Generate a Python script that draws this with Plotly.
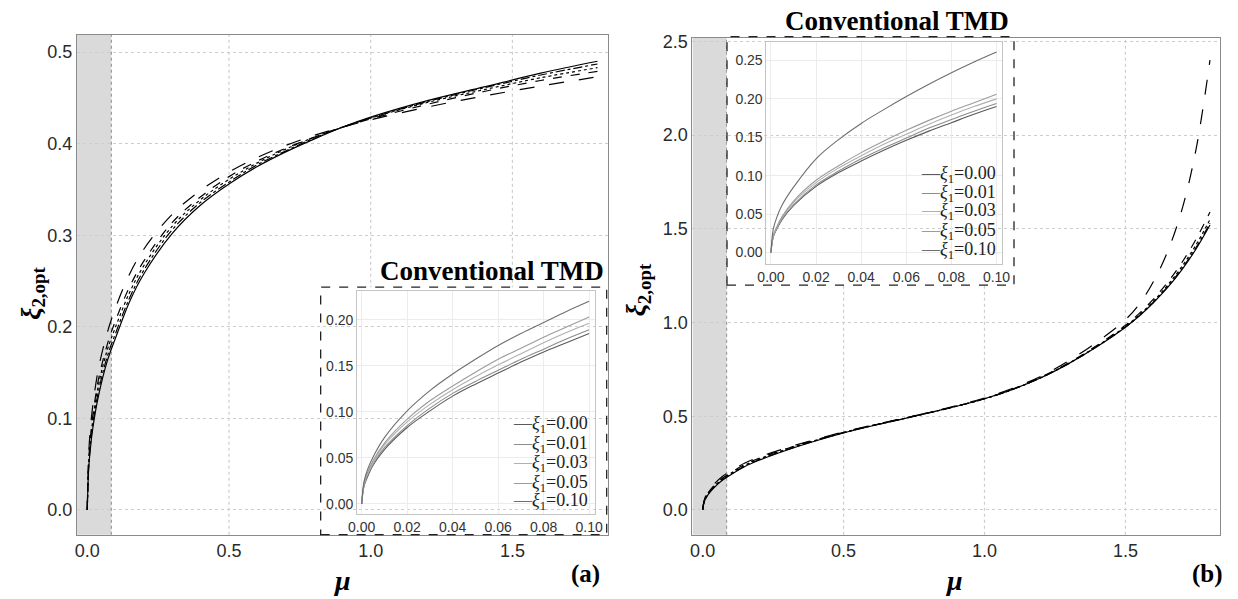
import plotly.graph_objects as go

W, H = 1238, 599

# ---------------- data ----------------
xi1_labels = ["0.00", "0.01", "0.03", "0.05", "0.10"]

# panel (a): optimum damping ratio vs mass ratio
mu_a = [0, 0.005, 0.01, 0.02, 0.04, 0.07, 0.1, 0.15, 0.2, 0.3, 0.4, 0.5,
        0.6, 0.7, 0.8, 0.9, 1.0, 1.2, 1.4, 1.6, 1.8]
xi2_a_000 = [0, 0.045, 0.064, 0.090, 0.125, 0.162, 0.188, 0.228, 0.258, 0.302, 0.333, 0.356,
             0.375, 0.391, 0.405, 0.418, 0.429, 0.447, 0.462, 0.477, 0.490]
xi2_a_001 = [0, 0.047, 0.067, 0.094, 0.130, 0.167, 0.193, 0.232, 0.262, 0.306, 0.336, 0.358,
             0.377, 0.392, 0.406, 0.418, 0.428, 0.446, 0.461, 0.475, 0.487]
xi2_a_003 = [0, 0.050, 0.071, 0.099, 0.137, 0.174, 0.200, 0.238, 0.267, 0.310, 0.339, 0.361,
             0.379, 0.394, 0.407, 0.418, 0.428, 0.445, 0.459, 0.472, 0.483]
xi2_a_005 = [0, 0.053, 0.075, 0.104, 0.143, 0.180, 0.207, 0.244, 0.272, 0.314, 0.342, 0.364,
             0.381, 0.395, 0.407, 0.418, 0.427, 0.443, 0.457, 0.469, 0.479]
xi2_a_010 = [0, 0.060, 0.085, 0.115, 0.155, 0.193, 0.221, 0.258, 0.285, 0.323, 0.349, 0.369,
             0.385, 0.398, 0.409, 0.418, 0.426, 0.440, 0.452, 0.463, 0.473]

# panel (b)
mu_b = [0, 0.005, 0.01, 0.02, 0.04, 0.07, 0.1, 0.15, 0.2, 0.3, 0.4, 0.5, 0.6, 0.7,
        0.8, 0.9, 1.0, 1.1, 1.2, 1.3, 1.4, 1.5, 1.55, 1.6, 1.65, 1.7, 1.75, 1.8]
xi2_b_000 = [0, 0.040, 0.058, 0.083, 0.118, 0.158, 0.188, 0.232, 0.265, 0.320, 0.368, 0.411, 0.448, 0.482,
             0.517, 0.553, 0.593, 0.643, 0.705, 0.782, 0.872, 0.975, 1.036, 1.107, 1.187, 1.281, 1.391, 1.520]
xi2_b_001 = [0, 0.041, 0.060, 0.085, 0.121, 0.161, 0.191, 0.235, 0.268, 0.322, 0.369, 0.412, 0.449, 0.483,
             0.517, 0.553, 0.593, 0.643, 0.705, 0.782, 0.873, 0.976, 1.038, 1.110, 1.192, 1.287, 1.399, 1.530]
xi2_b_003 = [0, 0.043, 0.062, 0.088, 0.125, 0.165, 0.195, 0.239, 0.272, 0.325, 0.371, 0.413, 0.450, 0.483,
             0.517, 0.553, 0.593, 0.643, 0.706, 0.783, 0.875, 0.979, 1.042, 1.115, 1.200, 1.298, 1.413, 1.550]
xi2_b_005 = [0, 0.045, 0.065, 0.092, 0.129, 0.169, 0.199, 0.243, 0.276, 0.328, 0.373, 0.414, 0.450, 0.484,
             0.518, 0.554, 0.594, 0.645, 0.708, 0.786, 0.879, 0.985, 1.050, 1.126, 1.215, 1.319, 1.443, 1.590]
xi2_b_010 = [0, 0.050, 0.071, 0.099, 0.137, 0.178, 0.207, 0.250, 0.282, 0.332, 0.376, 0.416, 0.452, 0.485,
             0.519, 0.556, 0.597, 0.649, 0.713, 0.797, 0.897, 1.015, 1.100, 1.220, 1.380, 1.600, 1.920, 2.400]

# conventional TMD insets, mu in [0, 0.1]
mu_in = [0, 0.001, 0.0025, 0.005, 0.01, 0.02, 0.03, 0.04, 0.05, 0.06, 0.07, 0.08, 0.09, 0.1]
tmd_a_000 = [0, 0.019, 0.029, 0.042, 0.059, 0.083, 0.101, 0.117, 0.130, 0.142, 0.154, 0.165, 0.175, 0.185]
tmd_a_001 = [0, 0.020, 0.031, 0.043, 0.061, 0.085, 0.104, 0.120, 0.133, 0.145, 0.157, 0.168, 0.179, 0.189]
tmd_a_003 = [0, 0.021, 0.032, 0.045, 0.064, 0.089, 0.108, 0.124, 0.138, 0.151, 0.163, 0.175, 0.186, 0.196]
tmd_a_005 = [0, 0.022, 0.034, 0.047, 0.066, 0.092, 0.112, 0.128, 0.143, 0.157, 0.169, 0.181, 0.192, 0.203]
tmd_a_010 = [0, 0.024, 0.037, 0.051, 0.072, 0.101, 0.123, 0.141, 0.157, 0.172, 0.185, 0.197, 0.209, 0.220]

tmd_b_000 = [0, 0.020, 0.030, 0.043, 0.061, 0.086, 0.104, 0.119, 0.133, 0.146, 0.158, 0.169, 0.180, 0.190]
tmd_b_001 = [0, 0.020, 0.031, 0.044, 0.062, 0.088, 0.106, 0.122, 0.136, 0.149, 0.162, 0.173, 0.184, 0.194]
tmd_b_003 = [0, 0.021, 0.032, 0.046, 0.065, 0.091, 0.110, 0.126, 0.141, 0.154, 0.167, 0.179, 0.190, 0.200]
tmd_b_005 = [0, 0.022, 0.033, 0.047, 0.067, 0.094, 0.113, 0.130, 0.145, 0.159, 0.172, 0.184, 0.195, 0.206]
tmd_b_010 = [0, 0.030, 0.045, 0.062, 0.085, 0.122, 0.147, 0.168, 0.186, 0.203, 0.219, 0.234, 0.248, 0.261]

main_a = [xi2_a_000, xi2_a_001, xi2_a_003, xi2_a_005, xi2_a_010]
main_b = [xi2_b_000, xi2_b_001, xi2_b_003, xi2_b_005, xi2_b_010]
inset_a = [tmd_a_000, tmd_a_001, tmd_a_003, tmd_a_005, tmd_a_010]
inset_b = [tmd_b_000, tmd_b_001, tmd_b_003, tmd_b_005, tmd_b_010]

# ---------------- styling ----------------
main_dash = ["solid", "dashdot", "dot", "dash", "longdash"]
inset_color = ["#5a5a5a", "#8c8c8c", "#b0b0b0", "#9c9c9c", "#6e6e6e"]
SANS = "Liberation Sans, Arial, sans-serif"
SERIF = "Liberation Serif, Times New Roman, serif"
band_mu = 0.085


def px_x(px):
    return px / W


def px_y(py):
    return 1 - py / H


# plot-area boxes in pixels: (left, top, right, bottom)
box_a = (69, 29, 607, 534)
box_b = (693, 32, 1228, 534)
box_ia = (353, 288, 594, 513)
box_ib = (768, 36, 1007, 261)
frame_ia = (316, 284, 606, 534)
frame_ib = (728, 31, 1019, 282)

rng_x_main = [-0.036, 1.836]
rng_y_a = [-0.027, 0.519]
rng_y_b = [-0.132, 2.52]
rng_x_in = [-0.002, 0.1025]
rng_y_ia = [-0.0108, 0.231]
rng_y_ib = [-0.0155, 0.2745]


def dom(box):
    l, t, r, b = box
    return [px_x(l), px_x(r)], [px_y(b), px_y(t)]


fig = go.Figure()

for k in range(5):
    fig.add_trace(go.Scatter(x=mu_a, y=main_a[k], mode="lines", line_shape="spline",
                             line=dict(color="black", width=1.2, dash=main_dash[k]),
                             xaxis="x", yaxis="y", hoverinfo="skip"))
for k in range(5):
    fig.add_trace(go.Scatter(x=mu_in, y=inset_a[k], mode="lines", line_shape="spline",
                             line=dict(color=inset_color[k], width=1.1),
                             xaxis="x2", yaxis="y2", hoverinfo="skip"))
for k in range(5):
    fig.add_trace(go.Scatter(x=mu_b, y=main_b[k], mode="lines", line_shape="spline",
                             line=dict(color="black", width=1.2, dash=main_dash[k]),
                             xaxis="x3", yaxis="y3", hoverinfo="skip"))
for k in range(5):
    fig.add_trace(go.Scatter(x=mu_in, y=inset_b[k], mode="lines", line_shape="spline",
                             line=dict(color=inset_color[k], width=1.1),
                             xaxis="x4", yaxis="y4", hoverinfo="skip"))


def main_axes(box, yr, ytv, xname, yname):
    xd, yd = dom(box)
    xa = dict(domain=xd, range=rng_x_main, tickvals=[0, 0.5, 1.0, 1.5], tickformat=".1f",
              showgrid=False, zeroline=False, showline=True, linecolor="#8a8a8a", linewidth=1.2,
              mirror=True, ticks="", tickfont=dict(family=SANS, size=18, color="#2a2a2a"),
              anchor=yname)
    ya = dict(domain=yd, range=yr, tickvals=ytv, tickformat=".1f",
              showgrid=True, gridcolor="#cdcdcd", griddash="dot", gridwidth=1.2,
              zeroline=False, showline=True, linecolor="#8a8a8a", linewidth=1.2,
              mirror=True, ticks="", tickfont=dict(family=SANS, size=18, color="#2a2a2a"),
              anchor=xname)
    return xa, ya


def inset_axes(box, yr, ytv, xname, yname):
    xd, yd = dom(box)
    xa = dict(domain=xd, range=rng_x_in, tickvals=[0, 0.02, 0.04, 0.06, 0.08, 0.10],
              tickformat=".2f", showgrid=True, gridcolor="#ececec", gridwidth=1,
              zeroline=False, showline=True, linecolor="#c4c4c4", linewidth=1, mirror=True,
              ticks="", tickfont=dict(family=SANS, size=14, color="#333"), anchor=yname)
    ya = dict(domain=yd, range=yr, tickvals=ytv, tickformat=".2f",
              showgrid=True, gridcolor="#ececec", gridwidth=1,
              zeroline=False, showline=True, linecolor="#c4c4c4", linewidth=1, mirror=True,
              ticks="", tickfont=dict(family=SANS, size=14, color="#333"), anchor=xname)
    return xa, ya


xa1, ya1 = main_axes(box_a, rng_y_a, [0, 0.1, 0.2, 0.3, 0.4, 0.5], "x", "y")
xa2, ya2 = inset_axes(box_ia, rng_y_ia, [0, 0.05, 0.10, 0.15, 0.20], "x2", "y2")
xa3, ya3 = main_axes(box_b, rng_y_b, [0, 0.5, 1.0, 1.5, 2.0, 2.5], "x3", "y3")
xa4, ya4 = inset_axes(box_ib, rng_y_ib, [0, 0.05, 0.10, 0.15, 0.20, 0.25], "x4", "y4")

shapes = []
for box, yname in ((box_a, "y"), (box_b, "y3")):
    xref = "x" if yname == "y" else "x3"
    _, yd = dom(box)
    # shaded strip covering the inset's mass-ratio range
    shapes.append(dict(type="rect", xref=xref, yref="paper", x0=rng_x_main[0], x1=band_mu,
                       y0=yd[0], y1=yd[1], fillcolor="#dadada", line=dict(width=0), layer="below"))
    shapes.append(dict(type="line", xref=xref, yref="paper", x0=band_mu, x1=band_mu,
                       y0=yd[0], y1=yd[1], line=dict(color="#9a9a9a", width=1.2, dash="dot"),
                       layer="below"))
    # vertical dotted grid
    for gx in (0.5, 1.0, 1.5):
        shapes.append(dict(type="line", xref=xref, yref="paper", x0=gx, x1=gx,
                           y0=yd[0], y1=yd[1], line=dict(color="#cdcdcd", width=1.2, dash="dot"),
                           layer="below"))


def to_data(p, p0, p1, r):
    return r[0] + (p - p0) / (p1 - p0) * (r[1] - r[0])


# white panels behind the insets (hide the main grid there)
for frame, box, yr, xref, yref in ((frame_ia, box_a, rng_y_a, "x", "y"),
                                   (frame_ib, box_b, rng_y_b, "x3", "y3")):
    l, t, r, b = frame
    L, T, R, B = box
    shapes.append(dict(type="rect", xref=xref, yref=yref,
                       x0=to_data(l, L, R, rng_x_main), x1=to_data(r, L, R, rng_x_main),
                       y0=to_data(b, B, T, yr), y1=to_data(t, B, T, yr),
                       fillcolor="white", line=dict(width=0), layer="below"))
    shapes.append(dict(type="rect", xref="paper", yref="paper",
                       x0=px_x(l), x1=px_x(r), y0=px_y(b), y1=px_y(t),
                       line=dict(color="#222", width=1.3, dash="dash"), layer="above"))

ann = []


def note(text, cx, cy, size, family=SERIF, color="black", xanchor="center", angle=0):
    ann.append(dict(text=text, x=px_x(cx), y=px_y(cy), xref="paper", yref="paper",
                    xanchor=xanchor, yanchor="middle", showarrow=False, textangle=angle,
                    font=dict(family=family, size=size, color=color)))


# inset titles
note("<b>Conventional TMD</b>", 605, 268, 27, xanchor="right")
note("<b>Conventional TMD</b>", 900, 15, 27)

# inset legends
for (xr, ys) in ((589, [423, 443, 462, 482, 501]), (1003, [170, 189, 208, 228, 247])):
    for k in range(5):
        note(f"<span style='color:{inset_color[k]}'>—</span><i>ξ</i><sub>1</sub>={xi1_labels[k]}",
             xr, ys[k], 18, color="#222", xanchor="right")

# axis titles and panel tags
for cx in (338, 958):
    note("<b><i>μ</i></b>", cx, 580, 28)
for cx, cy in ((24, 290), (638, 287)):
    note("<b><i>ξ</i><sub>2,opt</sub></b>", cx, cy, 27, angle=-90)
for txt, cx in (("(a)", 585), ("(b)", 1215)):
    note(f"<b>{txt}</b>", cx, 574, 25)

fig.update_layout(
    width=W, height=H, margin=dict(l=0, r=0, t=0, b=0),
    paper_bgcolor="white", plot_bgcolor="rgba(0,0,0,0)", showlegend=False,
    xaxis=xa1, yaxis=ya1, xaxis2=xa2, yaxis2=ya2,
    xaxis3=xa3, yaxis3=ya3, xaxis4=xa4, yaxis4=ya4,
    shapes=shapes, annotations=ann,
)

fig.write_html("out.html")
